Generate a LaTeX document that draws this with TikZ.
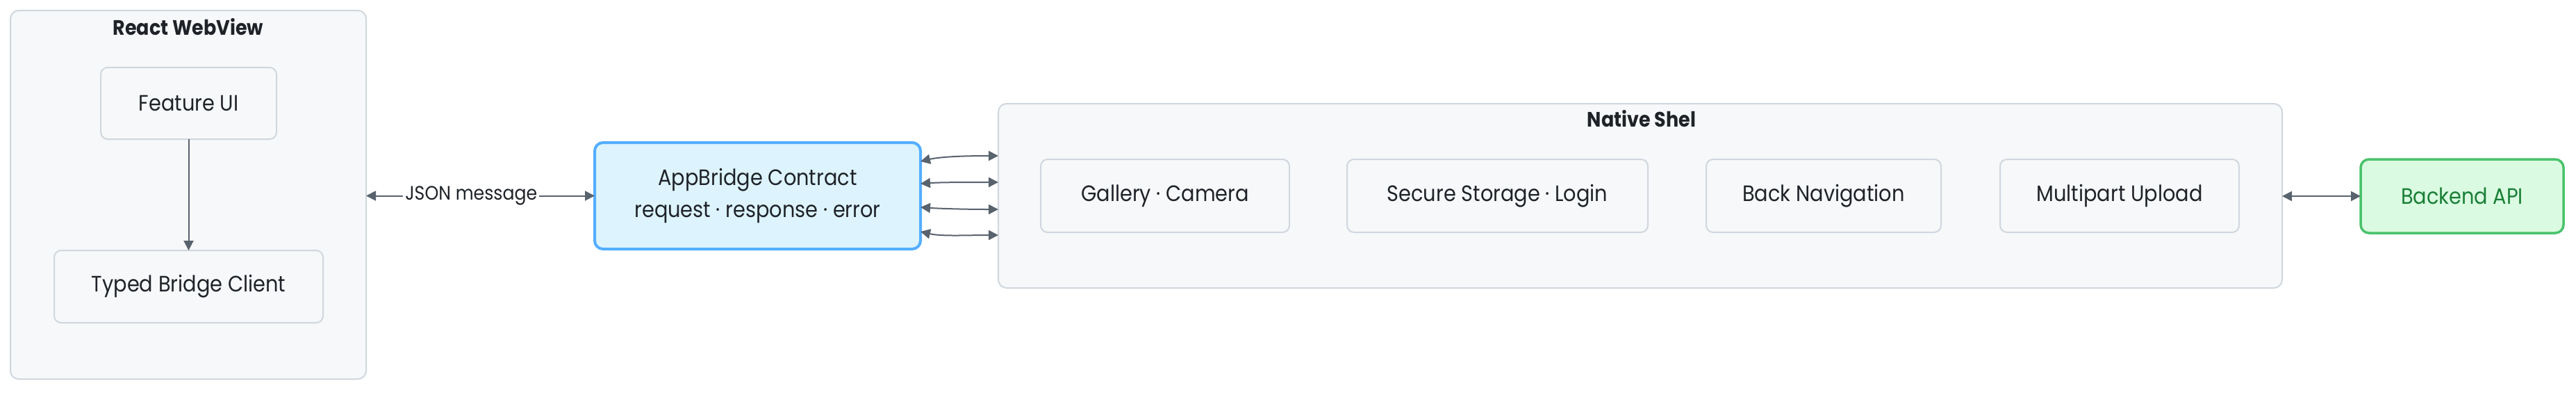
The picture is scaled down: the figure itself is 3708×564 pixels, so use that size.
\documentclass[tikz,border=0pt]{standalone}
\usepackage{fontspec}
\setmainfont{Poppins}[FakeStretch=0.9]
\usetikzlibrary{arrows.meta,calc}
\definecolor{cfill}{HTML}{F6F8FA}
\definecolor{cline}{HTML}{D0D7DE}
\definecolor{txt}{HTML}{1F2328}
\definecolor{arrowc}{HTML}{59636E}
\definecolor{bfill}{HTML}{DDF4FF}
\definecolor{bline}{HTML}{54AEFF}
\definecolor{gfill}{HTML}{DAFBE1}
\definecolor{gline}{HTML}{4AC26B}
\definecolor{gtxt}{HTML}{1A7F37}
\begin{document}
\begin{tikzpicture}[x=0.5pt,y=-0.5pt,
  container/.style={draw=cline, fill=cfill, line width=1pt, rounded corners=6pt, inner sep=0pt, outer sep=0pt},
  box/.style={draw=cline, fill=cfill, line width=1pt, rounded corners=5pt, inner sep=0pt, outer sep=0pt,
    text=txt, font=\fontsize{16}{19}\selectfont, minimum height=52.5pt},
  grouptitle/.style={text=txt, font=\fontsize{15}{18}\selectfont\bfseries, inner sep=0pt, anchor=base},
  conn/.style={draw=arrowc, line width=1pt, >={Triangle[length=7pt,width=7pt]}},
  edgelabel/.style={fill=white, text=txt, font=\fontsize{14}{16}\selectfont, inner sep=1.5pt}
]
\useasboundingbox (0,0) rectangle (3708,564);
% React WebView group
\node[container, minimum width=256pt, minimum height=265pt] (web) at (271,280) {};
\node[grouptitle] (webtitle) at (271,50) {React WebView};
\node[box, minimum width=126.5pt, minimum height=51.5pt] (feature) at (271.5,148.5) {Feature UI};
\node[box, minimum width=193.5pt, minimum height=52pt] (client) at (271.5,412) {Typed Bridge Client};
% Bridge contract
\node[draw=bline, fill=bfill, line width=2pt, rounded corners=6pt, inner sep=0pt, outer sep=0pt,
  minimum width=234.5pt, minimum height=76.5pt, text=txt, align=center,
  font=\fontsize{16}{23}\selectfont] (bridge) at (1090.5,281.5)
  {AppBridge Contract\\request · response · error};
% Native shell group
\node[container, minimum width=924pt, minimum height=132.5pt] (native) at (2361,281.5) {};
\node[grouptitle] (nativetitle) at (2363,182) {Native Shel};
\node[box, minimum width=179pt] (gallery) at (1677,281.5) {Gallery · Camera};
\node[box, minimum width=216.5pt] (secure) at (2155.5,281.5) {Secure Storage · Login};
\node[box, minimum width=169pt] (back) at (2625,281.5) {Back Navigation};
\node[box, minimum width=172pt] (upload) at (3051,281.5) {Multipart Upload};
% Backend
\node[draw=gline, fill=gfill, line width=1.75pt, rounded corners=6pt, inner sep=0pt, outer sep=0pt,
  minimum width=146pt, minimum height=53pt, text=gtxt, font=\fontsize{16}{19}\selectfont] (backend) at (3544,282) {Backend API};
% connectors
\draw[conn, ->] (feature) -- (client);
\draw[conn, <->] (web.east |- bridge.west) -- (bridge.west) node[edgelabel, pos=0.46] {JSON message};
\draw[conn, <->] ([yshift=24.75pt]bridge.east) .. controls +(30,-7) and +(-45,0) .. ([yshift=28.75pt]native.west);
\draw[conn, <->] ([yshift=8.75pt]bridge.east) .. controls +(30,-2) and +(-45,0) .. ([yshift=9.75pt]native.west);
\draw[conn, <->] ([yshift=-8.25pt]bridge.east) .. controls +(30,2) and +(-45,0) .. ([yshift=-9.75pt]native.west);
\draw[conn, <->] ([yshift=-25.75pt]bridge.east) .. controls +(30,7) and +(-45,0) .. ([yshift=-28.25pt]native.west);
\draw[conn, <->] (native.east |- backend.west) -- (backend.west);
\end{tikzpicture}
\end{document}
